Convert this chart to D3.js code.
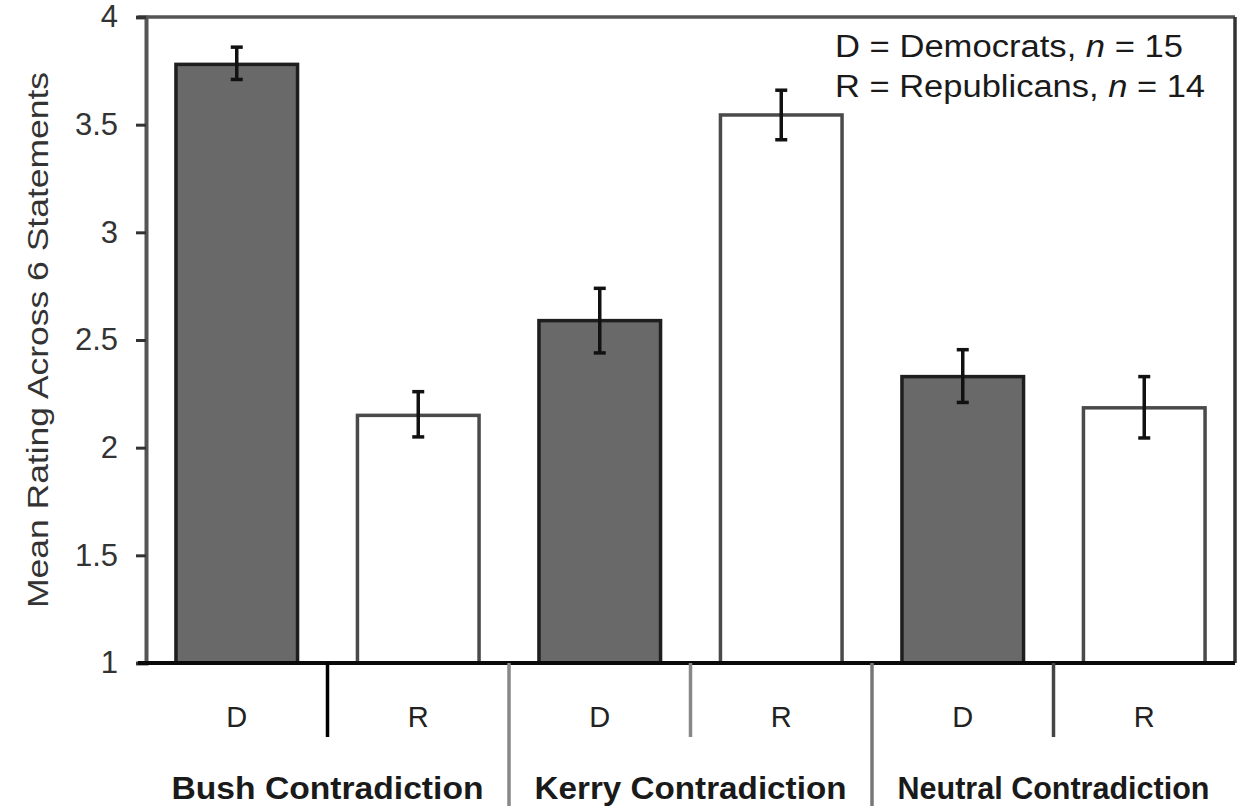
<!DOCTYPE html>
<html>
<head>
<meta charset="utf-8">
<script src="https://cdn.jsdelivr.net/npm/d3@7"></script>
<style>
  html, body { margin: 0; padding: 0; background: #fff; }
  svg { display: block; font-family: "Liberation Sans", Arial, sans-serif; }
</style>
</head>
<body>
<svg id="chart" width="1247" height="806"></svg>
<script>
// ---- data ----
const bars = ["Bush-D", "Bush-R", "Kerry-D", "Kerry-R", "Neutral-D", "Neutral-R"];
const parties = ["D", "R", "D", "R", "D", "R"];
const groups = ["Bush Contradiction", "Kerry Contradiction", "Neutral Contradiction"];
const means = [3.78, 2.15, 2.59, 3.545, 2.33, 2.185];
const errLow = [3.71, 2.05, 2.44, 3.43, 2.21, 2.045];
const errHigh = [3.86, 2.26, 2.74, 3.66, 2.455, 2.33];
const yTicks = [1, 1.5, 2, 2.5, 3, 3.5, 4];
const yTickLabels = ["1", "1.5", "2", "2.5", "3", "3.5", "4"];
const yTitle = "Mean Rating Across 6 Statements";
const legendLines = [
  { pre: "D = Democrats, ", n: "n", post: " = 15" },
  { pre: "R = Republicans, ", n: "n", post: " = 14" }
];

// ---- layout ----
const svg = d3.select("#chart");
const pLeft = 146, pRight = 1235, pTop = 17, pBottom = 663;

const x = d3.scaleBand().domain(bars).range([pLeft, pRight]).paddingInner(0.33).paddingOuter(0.165);
const y = d3.scaleLinear().domain([1, 4]).range([pBottom, pTop]);

// bars
svg.append("g").selectAll("rect").data(bars).join("rect")
  .attr("x", d => x(d))
  .attr("y", (d, i) => y(means[i]))
  .attr("width", x.bandwidth())
  .attr("height", (d, i) => y(1) - y(means[i]))
  .attr("fill", (d, i) => parties[i] === "D" ? "#696969" : "#ffffff")
  .attr("stroke", (d, i) => parties[i] === "D" ? "#1e1e1e" : "#4a4a4a")
  .attr("stroke-width", 3.5);

// error bars
const eg = svg.append("g").attr("stroke", "#111").attr("stroke-width", 3.5);
bars.forEach((b, i) => {
  const cx = x(b) + x.bandwidth() / 2;
  eg.append("line").attr("x1", cx).attr("x2", cx).attr("y1", y(errHigh[i])).attr("y2", y(errLow[i]));
  eg.append("line").attr("x1", cx - 6).attr("x2", cx + 6).attr("y1", y(errHigh[i])).attr("y2", y(errHigh[i]));
  eg.append("line").attr("x1", cx - 6).attr("x2", cx + 6).attr("y1", y(errLow[i])).attr("y2", y(errLow[i]));
});

// frame: top and right
svg.append("line").attr("x1", pLeft - 8).attr("x2", pRight).attr("y1", pTop).attr("y2", pTop)
  .attr("stroke", "#555").attr("stroke-width", 3.5);
svg.append("line").attr("x1", pRight).attr("x2", pRight).attr("y1", pTop).attr("y2", pBottom)
  .attr("stroke", "#333").attr("stroke-width", 3.5);

// y axis
const yAxis = d3.axisLeft(y).tickValues(yTicks).tickFormat((d, i) => yTickLabels[i]).tickSize(10).tickPadding(18);
const ya = svg.append("g").attr("transform", `translate(${pLeft},0)`).call(yAxis);
ya.select(".domain").attr("stroke", "#555").attr("stroke-width", 4);
ya.selectAll(".tick line").attr("stroke", "#333").attr("stroke-width", 3);
ya.selectAll(".tick text").attr("font-size", 31).attr("fill", "#333")
  .attr("font-family", "Liberation Sans, Arial, sans-serif");

// x baseline
svg.append("line").attr("x1", pLeft - 8).attr("x2", pRight).attr("y1", pBottom).attr("y2", pBottom)
  .attr("stroke", "#0a0a0a").attr("stroke-width", 4);

// separators under the axis
const step = x.step();
const sepColors = ["#000", "#888", "#888", "#777", "#444"];
for (let k = 1; k < bars.length; k++) {
  const sx = x(bars[k]) - x.paddingInner() * step / 2;
  svg.append("line").attr("x1", sx).attr("x2", sx)
    .attr("y1", pBottom).attr("y2", k % 2 === 1 ? 737 : 806)
    .attr("stroke", sepColors[k - 1]).attr("stroke-width", 3.5);
}

// party labels
svg.append("g").selectAll("text").data(bars).join("text")
  .attr("x", d => x(d) + x.bandwidth() / 2)
  .attr("y", 727)
  .attr("text-anchor", "middle")
  .attr("font-size", 29)
  .attr("fill", "#222")
  .text((d, i) => parties[i]);

// group labels
svg.append("g").selectAll("text").data(groups).join("text")
  .attr("x", (d, i) => (x(bars[2 * i]) + x(bars[2 * i + 1]) + x.bandwidth()) / 2)
  .attr("y", 799)
  .attr("text-anchor", "middle")
  .attr("font-size", 31)
  .attr("font-weight", "bold")
  .attr("fill", "#1a1a1a")
  .attr("textLength", 312)
  .attr("lengthAdjust", "spacingAndGlyphs")
  .text(d => d);

// y title
svg.append("text")
  .attr("transform", "translate(48,340) rotate(-90)")
  .attr("text-anchor", "middle")
  .attr("font-size", 29)
  .attr("fill", "#333")
  .attr("textLength", 536)
  .attr("lengthAdjust", "spacingAndGlyphs")
  .text(yTitle);

// legend
const lg = svg.append("g");
legendLines.forEach((l, i) => {
  const t = lg.append("text").attr("x", 835).attr("y", 57 + i * 40)
    .attr("font-size", 31).attr("fill", "#1a1a1a")
    .attr("textLength", i === 0 ? 348 : 370).attr("lengthAdjust", "spacingAndGlyphs");
  t.append("tspan").text(l.pre);
  t.append("tspan").attr("font-style", "italic").text(l.n);
  t.append("tspan").text(l.post);
});
</script>
</body>
</html>
